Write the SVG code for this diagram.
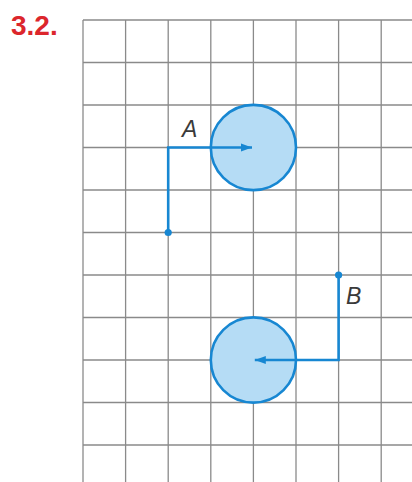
<svg xmlns="http://www.w3.org/2000/svg" width="412" height="482" viewBox="0 0 412 482">
<style>
.grid line{stroke:#8a8a8a;stroke-width:1.3}
.disc{fill:#b5dcf5;stroke:#1787d2;stroke-width:2.6}
.path{fill:none;stroke:#1787d2;stroke-width:2.6}
.dot{fill:#1787d2}
.lbl{font-family:"Liberation Sans",Arial,sans-serif;font-style:italic;font-size:23px;fill:#3a3a3a}
.title{font-family:"Liberation Sans",Arial,sans-serif;font-weight:bold;font-size:28px;fill:#dc262c}
</style>
<defs>
<marker id="arr" markerWidth="12" markerHeight="10" refX="11" refY="5" orient="auto" markerUnits="userSpaceOnUse">
<path d="M0,1 L11,5 L0,9 Z" fill="#1787d2"/>
</marker>
</defs>
<rect width="412" height="482" fill="#ffffff"/>
<text class="title" x="11" y="35">3.2.</text>
<g class="grid">
<line x1="83" y1="20" x2="83" y2="482"/>
<line x1="125.6" y1="20" x2="125.6" y2="482"/>
<line x1="168.2" y1="20" x2="168.2" y2="482"/>
<line x1="210.8" y1="20" x2="210.8" y2="482"/>
<line x1="253.4" y1="20" x2="253.4" y2="482"/>
<line x1="296" y1="20" x2="296" y2="482"/>
<line x1="338.6" y1="20" x2="338.6" y2="482"/>
<line x1="381.2" y1="20" x2="381.2" y2="482"/>
<line x1="83" y1="20" x2="412" y2="20"/>
<line x1="83" y1="62.5" x2="412" y2="62.5"/>
<line x1="83" y1="105" x2="412" y2="105"/>
<line x1="83" y1="147.5" x2="412" y2="147.5"/>
<line x1="83" y1="190" x2="412" y2="190"/>
<line x1="83" y1="232.5" x2="412" y2="232.5"/>
<line x1="83" y1="275" x2="412" y2="275"/>
<line x1="83" y1="317.5" x2="412" y2="317.5"/>
<line x1="83" y1="360" x2="412" y2="360"/>
<line x1="83" y1="402.5" x2="412" y2="402.5"/>
<line x1="83" y1="445" x2="412" y2="445"/>
</g>
<g id="circleA"><circle class="disc" cx="253.4" cy="147.5" r="42.6"/></g>
<g id="circleB"><circle class="disc" cx="253.4" cy="360" r="42.6"/></g>
<g id="connectors">
<path class="path" d="M168.2,232.5 V147.5 H252" marker-end="url(#arr)"/>
<circle class="dot" cx="168.2" cy="232.5" r="3.6"/>
<path class="path" d="M338.6,275 V360 H254.8" marker-end="url(#arr)"/>
<circle class="dot" cx="338.6" cy="275" r="3.6"/>
</g>
<g id="labelA"><text class="lbl" x="182" y="137">A</text></g>
<g id="labelB"><text class="lbl" x="346" y="304">B</text></g>
</svg>
